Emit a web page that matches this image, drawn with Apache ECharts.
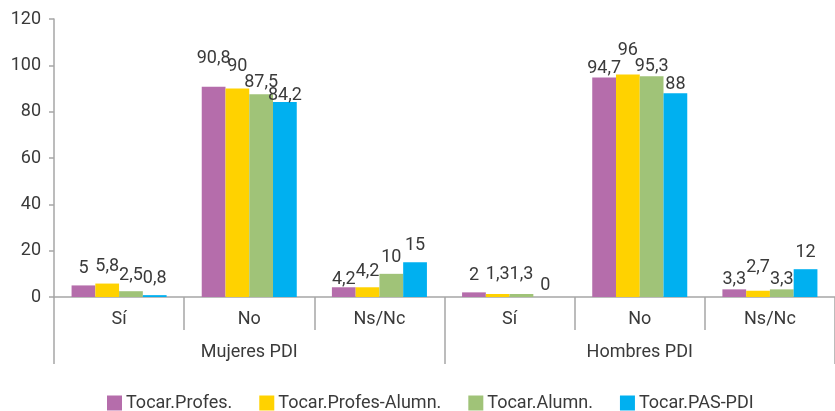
<!DOCTYPE html>
<html>
<head>
<meta charset="utf-8">
<title>Tocar</title>
<script src="https://cdn.jsdelivr.net/npm/echarts@6/dist/echarts.min.js"></script>
<style>
  html, body { margin: 0; padding: 0; background: #ffffff; }
  #chart { width: 835px; height: 411px; }
</style>
</head>
<body>
<div id="chart"></div>
<script>
// Answer categories, repeated for each group
const categories = ['Sí', 'No', 'Ns/Nc', 'Sí', 'No', 'Ns/Nc'];
const groups = ['Mujeres PDI', 'Hombres PDI'];
const yTicks = [0, 20, 40, 60, 80, 100, 120];

const seriesNames = ['Tocar.Profes.', 'Tocar.Profes-Alumn.', 'Tocar.Alumn.', 'Tocar.PAS-PDI'];
const profes = [5, 90.8, 4.2, 2, 94.7, 3.3];
const profesAlumn = [5.8, 90, 4.2, 1.3, 96, 2.7];
const alumn = [2.5, 87.5, 10, 1.3, 95.3, 3.3];
const pasPdi = [0.8, 84.2, 15, 0, 88, 12];

const seriesValues = [profes, profesAlumn, alumn, pasPdi];
const colors = ['#b56dab', '#ffd200', '#a0c378', '#00b0f0'];

// Hand-placed label nudges (px, positive = raised) so neighbouring value labels don't collide
const labelNudge = [
  [0, 11, -9, 0, -8, -7],
  [0, 5, -1, 2, 7, 6],
  [-1, -5, -1, 2, -7, -7],
  [0, -11, 0, -5, -8, 0]
];

const textColor = '#3a3a3a';
const axisColor = '#a6a6a6';
const fontFamily = 'Roboto, "Liberation Sans", sans-serif';
const fontSize = 18;

const chart = echarts.init(document.getElementById('chart'), null, { renderer: 'canvas' });

const option = {
  animation: false,
  textStyle: { fontFamily: fontFamily },
  grid: { left: 54, right: -11, top: 19, bottom: 114, containLabel: false },
  legend: {
    data: seriesNames,
    bottom: -6,
    left: 102,
    itemWidth: 15,
    itemHeight: 15,
    itemGap: 27,
    icon: 'rect',
    textStyle: { color: textColor, fontSize: fontSize, fontFamily: fontFamily, padding: [0, 0, 0, -1] }
  },
  xAxis: [
    {
      type: 'category',
      data: categories,
      position: 'bottom',
      axisLine: { show: true, lineStyle: { color: axisColor, width: 1.5 } },
      axisTick: { show: true, interval: 0, length: 33, lineStyle: { color: axisColor, width: 1.5 } },
      axisLabel: { interval: 0, margin: 13, color: textColor, fontSize: fontSize, fontFamily: fontFamily }
    },
    {
      type: 'category',
      data: groups,
      position: 'bottom',
      axisLine: { show: false },
      axisTick: { show: true, interval: 0, length: 67, lineStyle: { color: axisColor, width: 1.5 } },
      axisLabel: { interval: 0, margin: 46, color: textColor, fontSize: fontSize, fontFamily: fontFamily }
    }
  ],
  yAxis: {
    type: 'value',
    min: yTicks[0],
    max: yTicks[yTicks.length - 1],
    interval: yTicks[1] - yTicks[0],
    splitLine: { show: false },
    axisLine: { show: true, lineStyle: { color: axisColor, width: 1.5 } },
    axisTick: { show: true, length: 5, lineStyle: { color: axisColor, width: 1.5 } },
    axisLabel: { margin: 13, color: textColor, fontSize: fontSize, fontFamily: fontFamily }
  },
  series: seriesNames.map((name, i) => ({
    name: name,
    type: 'bar',
    xAxisIndex: 0,
    data: seriesValues[i].map((v, j) => ({
      value: v,
      label: { offset: [0, -labelNudge[i][j]] }
    })),
    barGap: '0%',
    barCategoryGap: '27%',
    itemStyle: { color: colors[i] },
    label: {
      show: true,
      position: 'top',
      distance: 8,
      color: textColor,
      fontSize: fontSize,
      fontFamily: fontFamily,
      formatter: p => String(p.value).replace('.', ',')
    }
  }))
};

chart.setOption(option);
</script>
</body>
</html>
